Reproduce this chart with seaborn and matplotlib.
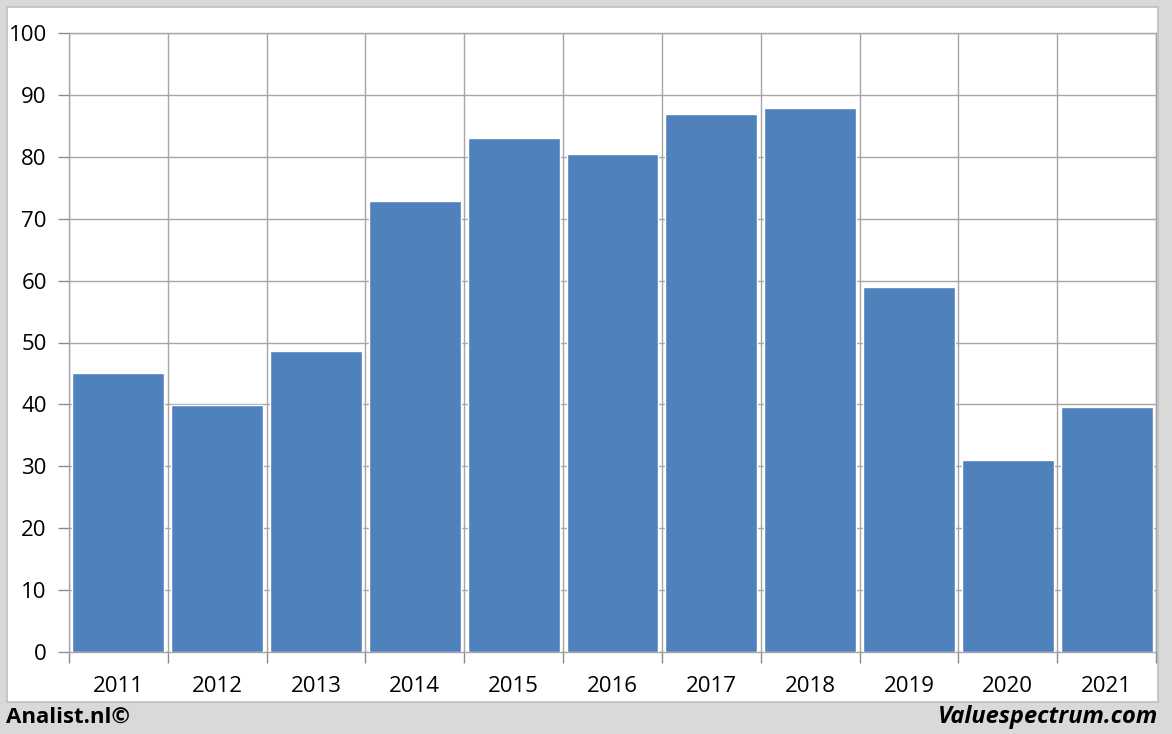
import matplotlib
matplotlib.use("Agg")
import matplotlib.pyplot as plt
import seaborn as sns
import pandas as pd
import numpy as np
from matplotlib.patches import Rectangle

jaren = ["2011", "2012", "2013", "2014", "2015", "2016", "2017", "2018", "2019", "2020", "2021"]
waarden = [45.1, 39.9, 48.6, 72.9, 83.0, 80.5, 86.9, 87.9, 59.0, 31.0, 39.6]
y_ticks = [0, 10, 20, 30, 40, 50, 60, 70, 80, 90, 100]

df = pd.DataFrame({"jaar": jaren, "waarde": waarden})

sns.set_style("white")
plt.rcParams["font.family"] = ["Open Sans", "DejaVu Sans"]
plt.rcParams["text.color"] = "black"
plt.rcParams["xtick.labelcolor"] = "black"
plt.rcParams["ytick.labelcolor"] = "black"

grijs = "#A6A6A6"
fig = plt.figure(figsize=(11.72, 7.34), dpi=100, facecolor="#D9D9D9")

# wit paneel met rand
W, H = 1172, 734
fig.patches.append(Rectangle((7 / W, 1 - 702 / H), (1158 - 7) / W, (702 - 7) / H,
                             transform=fig.transFigure, facecolor="white",
                             edgecolor="#BFBFBF", linewidth=1.2, zorder=-10))

ax = fig.add_axes([69 / W, 1 - 652 / H, (1156 - 69) / W, (652 - 33) / H])
ax.set_facecolor("none")

sns.barplot(data=df, x="jaar", y="waarde", color="#4F81BD", saturation=1,
            width=0.93, ax=ax, zorder=3)

ax.set_xlim(-0.5, len(jaren) - 0.5)
ax.set_ylim(0, 100)
ax.set_yticks(y_ticks)
ax.set_xticks(np.arange(-0.5, len(jaren)), minor=True)
ax.grid(True, axis="y", color=grijs, linewidth=1, zorder=0)
ax.grid(True, axis="x", which="minor", color=grijs, linewidth=1, zorder=0)
ax.set_axisbelow(True)
ax.tick_params(axis="x", which="major", length=0, pad=17, labelsize=16)
ax.tick_params(axis="x", which="minor", bottom=True, length=8, color="#8C8C8C", width=1, direction="out")
ax.tick_params(axis="y", left=True, length=8, color="#8C8C8C", width=1, labelsize=16, pad=8)
for s in ax.spines.values():
    s.set_color(grijs)
    s.set_linewidth(1)
ax.set_xlabel("")
ax.set_ylabel("")

fig.text(6 / W, 1 - 717 / H, "Analist.nl©", fontsize=16, fontweight="bold",
         ha="left", va="center", color="black")
fig.text(1158 / W, 1 - 717 / H, "Valuespectrum.com", fontsize=17, fontweight="bold",
         fontstyle="italic", ha="right", va="center", color="black")

fig.savefig("out.png", dpi=100, facecolor=fig.get_facecolor())
